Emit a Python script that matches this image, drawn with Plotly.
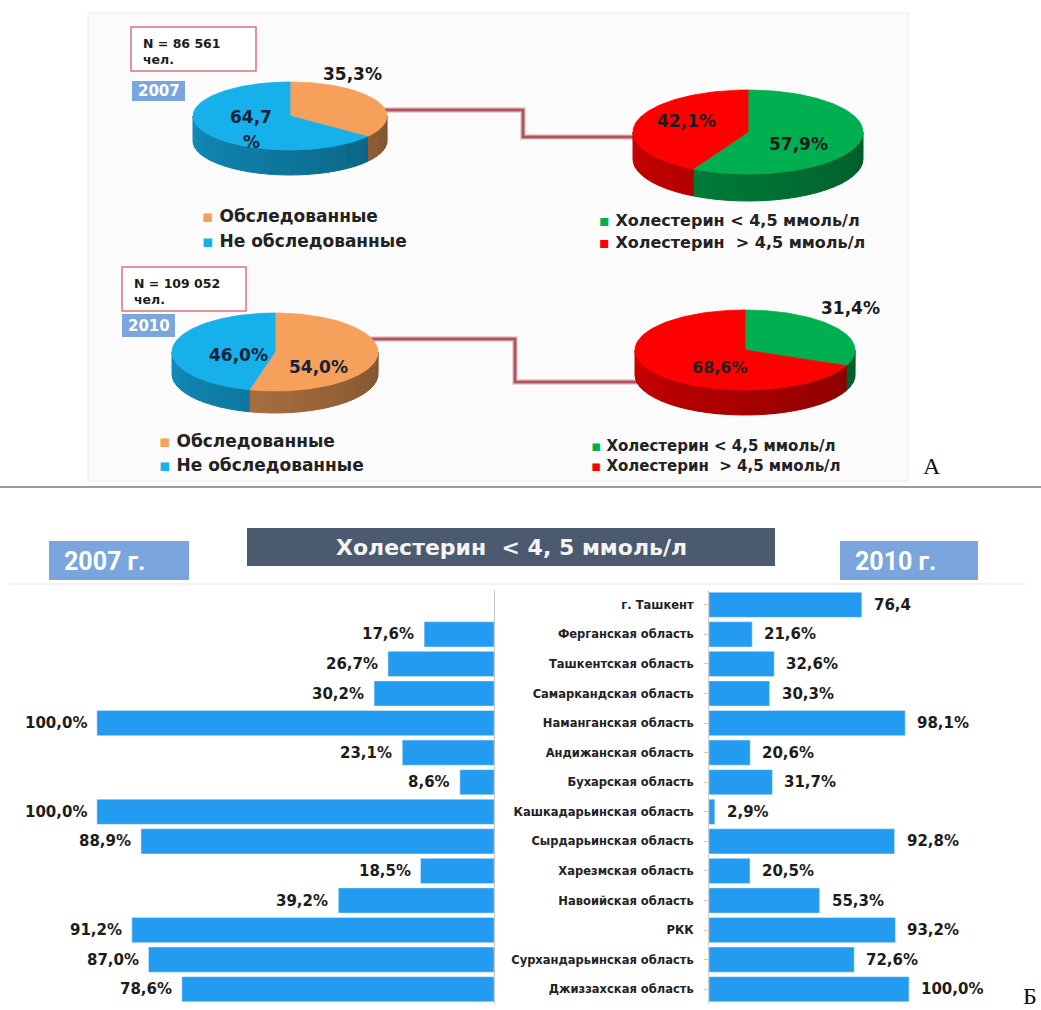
import numpy as np
import plotly.graph_objects as go

W, H = 1041, 1010

# ---------------- data ----------------
years = ["2007", "2010"]
sample_n = ["N = 86 561", "N = 109 052"]
exam_labels = ["Обследованные", "Не обследованные"]
exam_2007 = [35.3, 64.7]
exam_2010 = [54.0, 46.0]
chol_labels = ["Холестерин < 4,5 ммоль/л", "Холестерин  > 4,5 ммоль/л"]
chol_2007 = [57.9, 42.1]
chol_2010 = [31.4, 68.6]

regions = ["г. Ташкент", "Ферганская область", "Ташкентская область",
           "Самаркандская область", "Наманганская область", "Андижанская область",
           "Бухарская область", "Кашкадарьинская область", "Сырдарьинская область",
           "Харезмская область", "Навоийская область", "РКК",
           "Сурхандарьинская область", "Джиззахская область"]
chol_low_2007 = [None, 17.6, 26.7, 30.2, 100.0, 23.1, 8.6, 100.0, 88.9, 18.5, 39.2, 91.2, 87.0, 78.6]
chol_low_2010 = [76.4, 21.6, 32.6, 30.3, 98.1, 20.6, 31.7, 2.9, 92.8, 20.5, 55.3, 93.2, 72.6, 100.0]
pct_suffix_2010 = ["", "%", "%", "%", "%", "%", "%", "%", "%", "%", "%", "%", "%", "%"]
panel_title = "Холестерин  &lt; 4, 5 ммоль/л"

# ---------------- style ----------------
FONT = "DejaVu Sans"
DARK = "#1c1c1c"
C_ORANGE, C_BLUE, C_GREEN, C_RED = "#f6a15b", "#16b0ea", "#00b050", "#fe0000"
BAR = "#229bf1"
YEARBOX = "#7aa6dd"
SQ = "▪"


def fmt(v):
    return f"{v:.1f}".replace(".", ",")


def shade(hx, f):
    hx = hx.lstrip("#")
    r, g, b = (int(hx[i:i + 2], 16) for i in (0, 2, 4))
    return f"rgb({int(r * f)},{int(g * f)},{int(b * f)})"


fig = go.Figure()


def pie3d(values, colors, cx, cy, rx, ry, depth):
    total = float(sum(values))
    bounds = np.cumsum([0.0] + list(values)) / total * 360.0
    # side walls (front half only: 90..270 degrees clockwise from top)
    for i, col in enumerate(colors):
        lo, hi = max(bounds[i], 90.0), min(bounds[i + 1], 270.0)
        if hi <= lo:
            continue
        edges = np.linspace(lo, hi, int(np.ceil((hi - lo) / 6.0)) + 1)
        for a, b in zip(edges[:-1], edges[1:]):
            t = np.radians(np.linspace(a, b, 5))
            x = cx + rx * np.sin(t)
            y = cy - ry * np.cos(t)
            xs = list(x) + list(x[::-1]) + [x[0]]
            ys = list(y) + list((y + depth)[::-1]) + [y[0]]
            mid = (a + b) / 2.0
            f = 0.52 + 0.28 * (mid - 90.0) / 180.0
            c = shade(col, f)
            fig.add_trace(go.Scatter(x=xs, y=ys, fill="toself", fillcolor=c, mode="lines",
                                     line=dict(color=c, width=1), xaxis="x3", yaxis="y3",
                                     hoverinfo="skip", showlegend=False))
    # top faces
    for i, col in enumerate(colors):
        t = np.radians(np.linspace(bounds[i], bounds[i + 1], 120))
        xs = [cx] + list(cx + rx * np.sin(t)) + [cx]
        ys = [cy] + list(cy - ry * np.cos(t)) + [cy]
        fig.add_trace(go.Scatter(x=xs, y=ys, fill="toself", fillcolor=col, mode="lines",
                                 line=dict(color=col, width=0.8), xaxis="x3", yaxis="y3",
                                 hoverinfo="skip", showlegend=False))


annotations = []
shapes = []


def txt(x, y, text, size=15, color=DARK, xanchor="center", family=FONT, weight="bold"):
    annotations.append(dict(x=x, y=y, xref="x3", yref="y3", text=text, showarrow=False,
                            xanchor=xanchor, yanchor="middle", align=xanchor if xanchor != "center" else "center",
                            font=dict(family=family, size=size, color=color, weight=weight)))


def rect(x0, y0, x1, y1, fill, line=None, lw=1.5, layer="above"):
    shapes.append(dict(type="rect", xref="x3", yref="y3", x0=x0, y0=y0, x1=x1, y1=y1,
                       fillcolor=fill, line=dict(color=line or fill, width=lw if line else 0),
                       layer=layer))


# ---------- part A background ----------
rect(88, 13, 908, 481, "#fbfbfb", line="#ececec", lw=1, layer="below")

# connectors
for path in ["M 373 110 L 523 110 L 523 137 L 636 137",
             "M 343 339 L 515 339 L 515 382 L 640 382"]:
    shapes.append(dict(type="path", xref="x3", yref="y3", path=path,
                       line=dict(color="rgba(120,40,50,0.18)", width=6), layer="below"))
    shapes.append(dict(type="path", xref="x3", yref="y3", path=path,
                       line=dict(color="#b5515c", width=3), layer="below"))

# pies
pie3d(exam_2007, [C_ORANGE, C_BLUE], 290, 116, 97, 34, 25)
pie3d(chol_2007, [C_GREEN, C_RED], 748, 132, 115, 42, 27)
pie3d(exam_2010, [C_ORANGE, C_BLUE], 275, 352, 103, 39, 22)
pie3d(chol_2010, [C_GREEN, C_RED], 745, 350, 110, 40, 25)

# pie labels
txt(352, 74, fmt(exam_2007[0]) + "%", 17)
txt(251, 117, fmt(exam_2007[1]), 17, "#14233c")
txt(251, 142, "%", 17, "#14233c")
txt(686, 121, fmt(chol_2007[1]) + "%", 17)
txt(798, 144, fmt(chol_2007[0]) + "%", 17)
txt(238, 355, fmt(exam_2010[1]) + "%", 17, "#14233c")
txt(318, 367, fmt(exam_2010[0]) + "%", 17, "#14233c")
txt(850, 308, fmt(chol_2010[0]) + "%", 17)
txt(720, 367, fmt(chol_2010[1]) + "%", 16, "#222222")

# N boxes and year tags
rect(131, 27, 256, 71, "white", line="#e0707c", lw=1.5)
txt(141, 43, sample_n[0], 12.5, xanchor="left")
txt(141, 59, "чел.", 12.5, xanchor="left")
rect(122, 267, 246, 311, "white", line="#e0707c", lw=1.5)
txt(132, 283, sample_n[1], 12.5, xanchor="left")
txt(132, 299, "чел.", 12.5, xanchor="left")
rect(132, 81, 185, 101, YEARBOX)
txt(158.5, 91, years[0], 15, "white")
rect(122, 314, 175, 337, YEARBOX)
txt(148.5, 325.5, years[1], 15, "white")


def legend(x, ys, labels, colors, size=16):
    for y, lab, col in zip(ys, labels, colors):
        txt(x, y, f"<span style='color:{col}'>{SQ}</span> {lab}", size, "#222222", xanchor="left")


legend(200, [216, 241], exam_labels, [C_ORANGE, C_BLUE], 17)
legend(597, [220, 242], chol_labels, [C_GREEN, C_RED], 16)
legend(157, [441, 465], exam_labels, [C_ORANGE, C_BLUE], 17)
# tightly stacked legend of the 2010 cholesterol pie: one two-line text
txt(589, 455.5, "<br>".join(f"<span style='color:{c}'>{SQ}</span> {lab}"
                            for lab, c in zip(chol_labels, [C_GREEN, C_RED])),
    15, "#222222", xanchor="left")

txt(932, 466, "А", 24, "#111111", family="Liberation Serif", weight="normal")
txt(1030, 996, "Б", 24, "#111111", family="Liberation Serif", weight="normal")

# separator
shapes.append(dict(type="line", xref="x3", yref="y3", x0=0, x1=W, y0=487, y1=487,
                   line=dict(color="#9a9a9a", width=2)))

# ---------- part B header ----------
rect(247, 528, 775, 566, "#4b5a6e")
txt(511, 547, panel_title, 22, "#f4f4f4")
rect(49, 541, 189, 580, YEARBOX)
txt(104, 561, years[0] + " г.", 25, "white", family="Roboto", weight="bold")
rect(840, 541, 978, 580, YEARBOX)
txt(895, 561, years[1] + " г.", 25, "white", family="Roboto", weight="bold")
shapes.append(dict(type="line", xref="x3", yref="y3", x0=10, x1=1025, y0=584, y1=584,
                   line=dict(color="#e6e6e6", width=1)))

# ---------- bars ----------
idx = list(range(len(regions)))
fig.add_trace(go.Bar(y=idx, x=chol_low_2007, orientation="h", marker_color=BAR,
                     xaxis="x", yaxis="y", hoverinfo="skip", showlegend=False))
fig.add_trace(go.Bar(y=idx, x=chol_low_2010, orientation="h", marker_color=BAR,
                     xaxis="x2", yaxis="y2", hoverinfo="skip", showlegend=False))

for i, v in enumerate(chol_low_2007):
    if v is None:
        continue
    annotations.append(dict(x=v, y=i, xref="x", yref="y", text=fmt(v) + "%", showarrow=False,
                            xanchor="right", xshift=-8,
                            font=dict(family=FONT, size=15, color=DARK, weight="bold")))
for i, v in enumerate(chol_low_2010):
    annotations.append(dict(x=v, y=i, xref="x2", yref="y2", text=fmt(v) + pct_suffix_2010[i],
                            showarrow=False, xanchor="left", xshift=10,
                            font=dict(family=FONT, size=15, color=DARK, weight="bold")))

ydom = [(H - 1004) / H, (H - 590) / H]
yrange = [len(regions) - 0.5, -0.5]

fig.update_layout(
    width=W, height=H, margin=dict(l=0, r=0, t=0, b=0),
    paper_bgcolor="white", plot_bgcolor="rgba(0,0,0,0)",
    bargap=0.15, showlegend=False,
    xaxis=dict(domain=[0, 494 / W], range=[124.4, 0], visible=False, fixedrange=True),
    yaxis=dict(domain=ydom, range=yrange, anchor="x", side="right", showticklabels=False,
               showgrid=False, zeroline=False, showline=True, linecolor="#c4c4c4", linewidth=1,
               ticks=""),
    xaxis2=dict(domain=[709 / W, 1], range=[0, 166], visible=False, fixedrange=True),
    yaxis2=dict(domain=ydom, range=yrange, anchor="x2", side="left",
                tickvals=idx, ticktext=regions, showgrid=False, zeroline=False,
                showline=True, linecolor="#cfcfcf", linewidth=1,
                ticks="outside", ticklen=4, tickcolor="#f3c09a", ticklabelstandoff=8,
                tickfont=dict(family=FONT, size=11.5, color="#222222", weight="bold")),
    xaxis3=dict(domain=[0, 1], range=[0, W], visible=False, fixedrange=True),
    yaxis3=dict(domain=[0, 1], range=[H, 0], visible=False, fixedrange=True),
    annotations=annotations, shapes=shapes,
)

fig.write_html("out.html")
